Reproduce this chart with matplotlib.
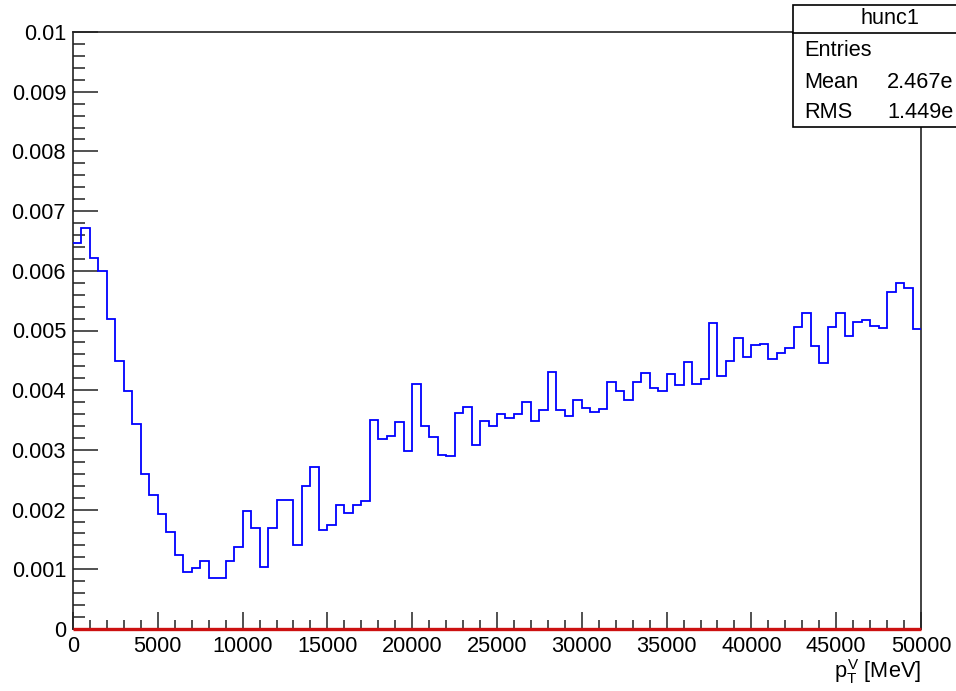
import numpy as np
import matplotlib
matplotlib.use("Agg")
import matplotlib.pyplot as plt
from matplotlib.ticker import MultipleLocator, FixedLocator, FixedFormatter
from matplotlib.patches import Rectangle
from matplotlib.lines import Line2D

plt.rcParams['font.family'] = ['Liberation Sans', 'DejaVu Sans']
plt.rcParams['mathtext.fontset'] = 'custom'
plt.rcParams['mathtext.rm'] = 'Liberation Sans'
plt.rcParams['mathtext.it'] = 'Liberation Sans'

# ---- data ----
x_min, x_max, bin_width = 0, 50000, 500
hist_values_e3 = [
    6.47, 6.71, 6.21, 5.99, 5.19, 4.49, 3.99, 3.44, 2.60, 2.24,
    1.93, 1.63, 1.24, 0.95, 1.02, 1.14, 0.85, 0.86, 1.14, 1.37,
    1.97, 1.69, 1.04, 1.69, 2.16, 2.16, 1.41, 2.40, 2.71, 1.65,
    1.74, 2.08, 1.94, 2.08, 2.14, 3.50, 3.19, 3.23, 3.46, 2.98,
    4.10, 3.40, 3.21, 2.92, 2.89, 3.62, 3.72, 3.09, 3.49, 3.40,
    3.60, 3.53, 3.60, 3.81, 3.49, 3.66, 4.30, 3.66, 3.57, 3.83,
    3.70, 3.64, 3.68, 4.14, 3.99, 3.84, 4.14, 4.28, 4.04, 3.99,
    4.27, 4.08, 4.47, 4.11, 4.18, 5.13, 4.23, 4.49, 4.87, 4.56,
    4.76, 4.77, 4.52, 4.62, 4.70, 5.06, 5.29, 4.74, 4.46, 5.06,
    5.29, 4.90, 5.14, 5.18, 5.08, 5.04, 5.64, 5.79, 5.71, 5.03,
]
zero_line_values = [0.0, 0.0]
y_ticks = [0, 0.001, 0.002, 0.003, 0.004, 0.005, 0.006, 0.007, 0.008, 0.009, 0.01]
y_tick_labels = ["0", "0.001", "0.002", "0.003", "0.004", "0.005", "0.006",
                 "0.007", "0.008", "0.009", "0.01"]
x_ticks = [0, 5000, 10000, 15000, 20000, 25000, 30000, 35000, 40000, 45000, 50000]
x_tick_labels = [str(v) for v in x_ticks]
stats_title = "hunc1"
# values as visible in the reference (the box runs off the right edge)
stats_rows = [("Entries", ""), ("Mean", "2.467e"), ("RMS", "1.449e")]

values = np.array(hist_values_e3) * 1e-3
edges = np.arange(x_min, x_max + bin_width, bin_width)

W, H = 956, 691
fig = plt.figure(figsize=(W / 100, H / 100), dpi=100)
L, R, B, T = 73, 921, 629, 32
ax = fig.add_axes([L / W, (H - B) / H, (R - L) / W, (B - T) / H])

ax.stairs(values, edges, baseline=None, color='#0000ff', lw=1.3, zorder=3)
ax.plot([x_min, x_max], zero_line_values, color='#cc1111', lw=2.4, zorder=4,
        clip_on=False, solid_capstyle='butt')

ax.set_xlim(x_min, x_max)
ax.set_ylim(0, 0.01)

ax.yaxis.set_major_locator(FixedLocator(y_ticks))
ax.yaxis.set_major_formatter(FixedFormatter(y_tick_labels))
ax.yaxis.set_minor_locator(MultipleLocator(0.0002))
ax.xaxis.set_major_locator(FixedLocator(x_ticks))
ax.xaxis.set_major_formatter(FixedFormatter(x_tick_labels))
ax.xaxis.set_minor_locator(MultipleLocator(1000))

ax.tick_params(axis='y', which='major', direction='in', length=18, width=1.1,
               labelsize=15.7, pad=5, colors='#222222', labelcolor='black')
ax.tick_params(axis='y', which='minor', direction='in', length=8.7, width=1.1,
               colors='#222222')
ax.tick_params(axis='x', which='major', direction='in', length=12.5, width=1.1,
               labelsize=15.7, pad=5, colors='#222222', labelcolor='black')
ax.tick_params(axis='x', which='minor', direction='in', length=6.3, width=1.1,
               colors='#222222')
ax.tick_params(top=False, right=False, which='both')

for s in ax.spines.values():
    s.set_linewidth(1.2)
    s.set_color('#222222')

ax.set_xlabel(r"$p_{T}^{V}$ [MeV]", fontsize=15.7, loc='right', labelpad=0)

# stats box (extends beyond the figure edge, as in the reference)
bx0, by0, bx1, by1 = 793, 5, 990, 127
rowline = 33
fig.patches.append(Rectangle((bx0 / W, 1 - by1 / H), (bx1 - bx0) / W, (by1 - by0) / H,
                             transform=fig.transFigure, facecolor='white',
                             edgecolor='black', lw=1.2, zorder=10))
fig.lines.append(Line2D([bx0 / W, bx1 / W], [1 - rowline / H, 1 - rowline / H],
                        transform=fig.transFigure, color='black', lw=1.2, zorder=11))
fig.text(890 / W, 1 - 19 / H, stats_title, ha='center', va='center', fontsize=15.7, zorder=12)
row_y = [51, 82, 112]
for (name, val), yy in zip(stats_rows, row_y):
    fig.text(804 / W, 1 - yy / H, name, ha='left', va='center', fontsize=15.7, zorder=12)
    fig.text(887 / W, 1 - yy / H, val, ha='left', va='center', fontsize=15.7, zorder=12)

fig.savefig("out.png", dpi=100)
